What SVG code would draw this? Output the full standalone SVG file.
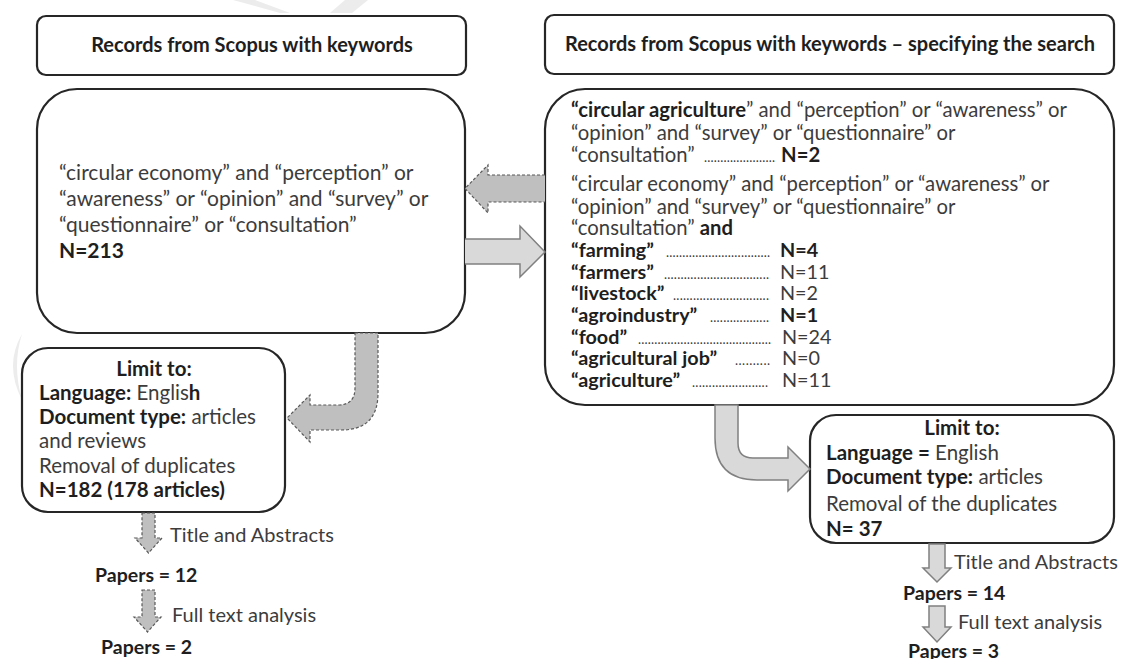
<svg xmlns="http://www.w3.org/2000/svg" width="1123" height="659" viewBox="0 0 1123 659">
<style>
text{font-family:Lato,"Open Sans","Liberation Sans",sans-serif;fill:#3c3c3c}
.b{font-weight:bold;fill:#1e1e1e}
.box{fill:#fff;stroke:#262626;stroke-width:2.2}
.t{font-size:20px;font-weight:bold;fill:#1e1e1e}
.m{font-size:21px}
.r{font-size:20.3px}
.k{font-size:19.8px}
.l{font-size:20.5px}
.s{font-size:20px}
.p{font-size:19.5px}
.d{font-size:13px;fill:#3c3c3c}
.sol{fill:#d9d9d9;stroke:#808080;stroke-width:1.5}
.dash{fill:#bfbfbf;stroke:#595959;stroke-width:1.2;stroke-dasharray:3 2}
.wm{fill:#ececec}
</style>
<g id="watermark">
<path class="wm" d="M233,0 L255,0 L290,13 L280,13 Z"/>
<path class="wm" d="M345,0 L368,0 L352,13 L330,13 Z"/>
<path class="wm" d="M22,334 Q4,365 22,400 Q12,365 22,334 Z"/>
</g>
<g id="title-left">
<rect class="box" x="37" y="16" width="429" height="59" rx="9"/>
<text class="t" x="252" y="52" text-anchor="middle">Records from Scopus with keywords</text>
</g>
<g id="title-right">
<rect class="box" x="545" y="15" width="569" height="59" rx="9"/>
<text class="t" x="830" y="51" text-anchor="middle">Records from Scopus with keywords – specifying the search</text>
</g>
<g id="search-left">
<rect class="box" x="37" y="89" width="428" height="244" rx="40"/>
<text class="m" x="59" y="180">“circular economy” and “perception” or</text>
<text class="m" x="59" y="206">“awareness” or “opinion” and “survey” or</text>
<text class="m" x="59" y="232">“questionnaire” or “consultation”</text>
<text class="m b" x="59" y="258">N=213</text>
</g>
<g id="search-right">
<rect class="box" x="545" y="89" width="569" height="316" rx="40"/>
<text class="r" x="571" y="117"><tspan class="b">“circular agriculture</tspan>” and “perception” or “awareness” or</text>
<text class="r" x="571" y="140">“opinion” and “survey” or “questionnaire” or</text>
<text class="r" x="571" y="162">“consultation” </text>
<text class="d" x="704" y="162" textLength="71" lengthAdjust="spacing">......................</text>
<text class="r b" x="781" y="162">N=2</text>
<text class="r" x="571" y="191">“circular economy” and “perception” or “awareness” or</text>
<text class="r" x="571" y="214">“opinion” and “survey” or “questionnaire” or</text>
<text class="r" x="571" y="235">“consultation” <tspan class="b">and</tspan></text>
<text class="k b" x="571" y="257">“farming”</text>
<text class="d" x="666" y="257" textLength="104" lengthAdjust="spacing">................................</text>
<text class="k b" x="780" y="257">N=4</text>
<text class="k b" x="571" y="279">“farmers”</text>
<text class="d" x="664" y="279" textLength="105" lengthAdjust="spacing">................................</text>
<text class="k" x="780" y="279">N=11</text>
<text class="k b" x="571" y="300">“livestock”</text>
<text class="d" x="673" y="300" textLength="96" lengthAdjust="spacing">.............................</text>
<text class="k" x="780" y="300">N=2</text>
<text class="k b" x="571" y="322">“agroindustry”</text>
<text class="d" x="710" y="322" textLength="59" lengthAdjust="spacing">..................</text>
<text class="k b" x="780" y="322">N=1</text>
<text class="k b" x="571" y="344">“food”</text>
<text class="d" x="638" y="344" textLength="133" lengthAdjust="spacing">.........................................</text>
<text class="k" x="782" y="344">N=24</text>
<text class="k b" x="571" y="365">“agricultural job”</text>
<text class="d" x="735" y="365" textLength="35" lengthAdjust="spacing">..........</text>
<text class="k" x="782" y="365">N=0</text>
<text class="k b" x="571" y="387">“agriculture”</text>
<text class="d" x="692" y="387" textLength="76" lengthAdjust="spacing">.......................</text>
<text class="k" x="782" y="387">N=11</text>
</g>
<g id="limit-left">
<rect class="box" x="22" y="348" width="263" height="164" rx="26"/>
<text class="l b" x="154" y="376" text-anchor="middle">Limit to:</text>
<text class="l" x="39" y="400"><tspan class="b">Language:</tspan> Englis<tspan class="b">h</tspan></text>
<text class="l" x="39" y="424"><tspan class="b">Document type:</tspan> articles</text>
<text class="l" x="39" y="448">and reviews</text>
<text class="l" x="39" y="473">Removal of duplicates</text>
<text class="l b" x="39" y="497">N=182 (178 articles)</text>
</g>
<g id="limit-right">
<rect class="box" x="810" y="415" width="304" height="128" rx="26"/>
<text class="l b" x="962" y="435" text-anchor="middle">Limit to:</text>
<text class="l" x="826" y="460"><tspan class="b">Language =</tspan> English</text>
<text class="l" x="826" y="484"><tspan class="b">Document type:</tspan> articles</text>
<text class="l" x="826" y="511">Removal of the duplicates</text>
<text class="l b" x="826" y="536">N= 37</text>
</g>
<g id="papers-left">
<text class="s" x="170" y="542">Title and Abstracts</text>
<text class="p b" x="95" y="582">Papers = 12</text>
<text class="s" x="172" y="622">Full text analysis</text>
<text class="p b" x="101" y="654">Papers = 2</text>
</g>
<g id="papers-right">
<text class="s" x="954" y="569">Title and Abstracts</text>
<text class="p b" x="903" y="600">Papers = 14</text>
<text class="s" x="958" y="629">Full text analysis</text>
<text class="p b" x="908" y="658">Papers = 3</text>
</g>
<g id="connectors">
<path class="dash" d="M545,175 L488,175 L488,165 L465,188.5 L488,213 L488,202 L545,202"/>
<path class="sol" d="M465,239 L520,239 L520,226 L545,252 L520,277 L520,264 L465,264"/>
<path class="dash" d="M355,333 L378,333 L378,393 Q378,430 341,430 L310,430 L310,442 L287,418 L310,395 L310,405 L338,405 Q355,405 355,388 Z"/>
<path class="sol" d="M715,405 L738,405 L738,443 Q738,458 753,458 L788,458 L788,447 L810,469 L788,491 L788,480 L757,480 Q715,480 715,438 Z"/>
<path class="dash" d="M142,513 L155,513 L155,538 L162,538 L148.5,553 L135,538 L142,538 Z"/>
<path class="dash" d="M142,590 L155,590 L155,617 L161,617 L147.5,632 L134,617 L142,617 Z"/>
<path class="sol" d="M929,544 L945,544 L945,568 L951,568 L937,582 L923,568 L929,568 Z"/>
<path class="sol" d="M929,606 L945,606 L945,627 L951,627 L937,642 L923,627 L929,627 Z"/>
</g>
</svg>
